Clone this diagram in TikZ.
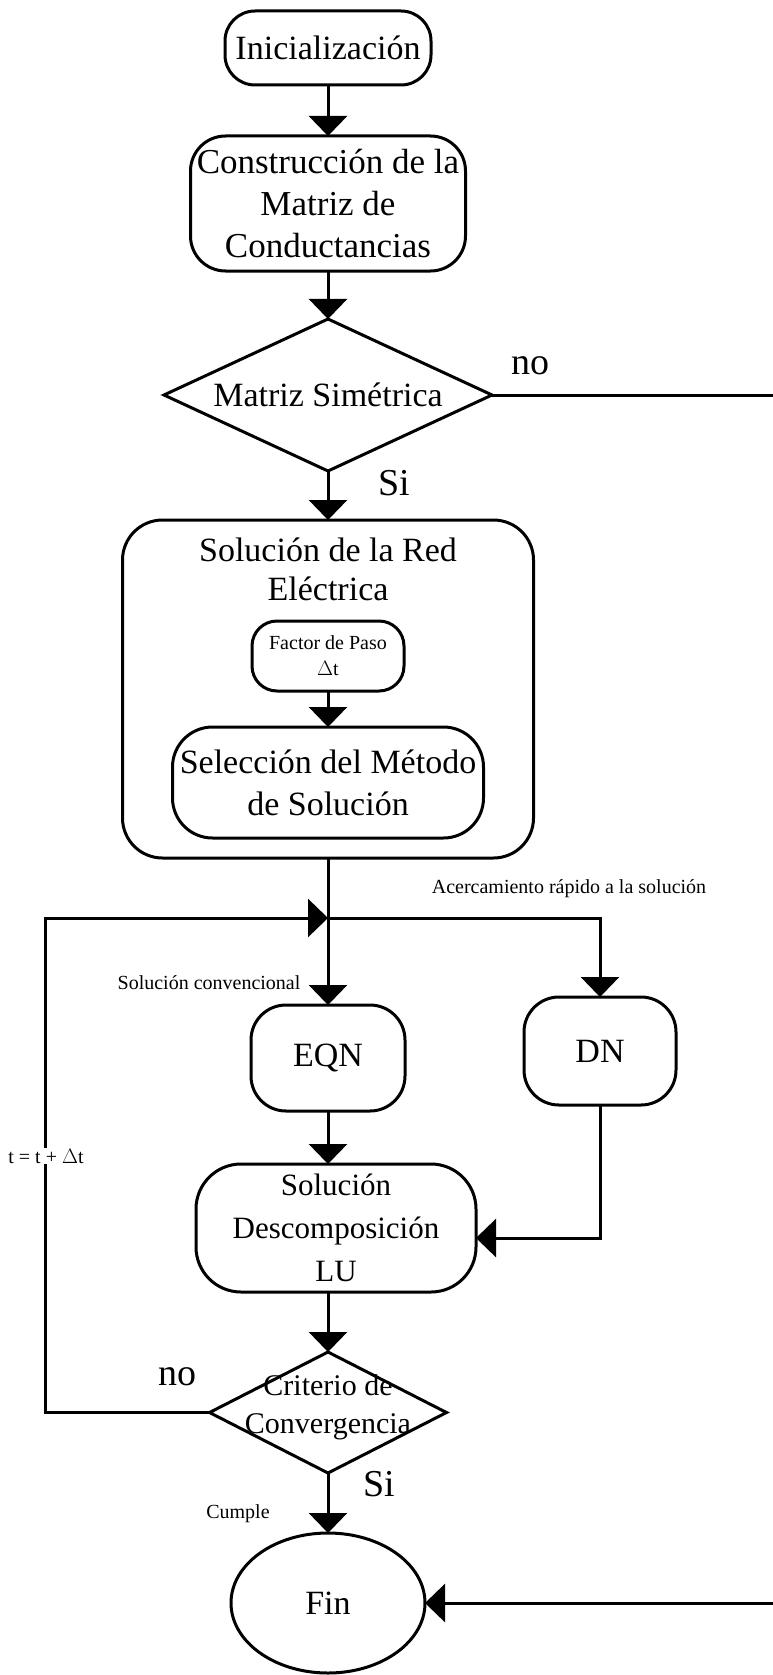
\documentclass[tikz,border=0pt]{standalone}
\usepackage{fontspec}
\setmainfont{Liberation Serif}
\usetikzlibrary{shapes,arrows.meta,positioning,calc}

\begin{document}
\begin{tikzpicture}[
    x=1pt, y=-1pt,
    node distance=48pt,
    box/.style={rectangle, draw, line width=3pt, outer sep=0pt, rounded corners=30pt, align=center, inner sep=2pt, font=\fontsize{34}{42}\selectfont},
    decision/.style={diamond, draw, line width=3pt, outer sep=0pt, align=center, inner sep=0pt, font=\fontsize{34}{42}\selectfont},
    note/.style={inner sep=1pt, font=\fontsize{20}{24}\selectfont},
    answer/.style={inner sep=1pt, font=\fontsize{38}{40}\selectfont},
    arrow/.style={-{Triangle[length=20pt,width=38pt]}, line width=3pt},
    wire/.style={line width=3pt}
]
    \useasboundingbox (0,0) rectangle (773,1675);

    % Main flow
    \node[box, minimum width=206pt, minimum height=74pt] (init) at (328,48) {Inicialización};
    \node[box, below=51pt of init, minimum width=275pt, minimum height=135pt, rounded corners=35pt, inner sep=0pt, font=\fontsize{35}{42}\selectfont] (cond) {Construcción de la\\Matriz de\\Conductancias};
    \node[decision, below=48pt of cond, aspect=2.16, minimum width=328pt, minimum height=152pt] (sym) {Matriz Simétrica};
    \node[box, below=49pt of sym, minimum width=411pt, minimum height=338pt, rounded corners=40pt] (red) {};
    \node[below=14pt of red.north, align=center, font=\fontsize{34}{39}\selectfont] (redtitle) {Solución de la Red\\Eléctrica};
    \node[box, below=101pt of red.north, minimum width=152pt, minimum height=70pt, rounded corners=25pt, font=\fontsize{20}{26}\selectfont] (paso) {Factor de Paso\\$\Delta$t};
    \node[box, below=36pt of paso, minimum width=311pt, minimum height=111pt, rounded corners=40pt] (metodo) {Selección del Método\\de Solución};

    % Methods
    \coordinate[below=60pt of red] (split);
    \node[box, below=147pt of red, minimum width=154pt, minimum height=106pt, rounded corners=35pt] (eqn) {EQN};
    \node[box, right=119pt of eqn, yshift=7pt, minimum width=152pt, minimum height=108pt, rounded corners=35pt] (dn) {DN};
    \node[box, below=53pt of eqn, xshift=8pt, minimum width=280pt, minimum height=128pt, rounded corners=45pt, font=\fontsize{31}{43}\selectfont] (lu) {Solución\\Descomposición\\LU};
    \node[decision, below=60pt of lu, xshift=-8pt, aspect=1.96, minimum width=237pt, minimum height=121pt,
        label={[font=\fontsize{30}{38}\selectfont, align=center, yshift=5pt]center:Criterio de\\Convergencia}] (conv) {};
    \node[draw, ellipse, line width=3pt, outer sep=0pt, below=60pt of conv, minimum width=194pt, minimum height=140pt, font=\fontsize{34}{42}\selectfont] (fin) {Fin};

    % Free ends
    \coordinate (symR) at (773,395);
    \coordinate (finR) at (773,1603);
    \coordinate (back) at (45,918);

    % Arrows
    \draw[arrow] (init) -- (cond);
    \draw[arrow] (cond) -- (sym);
    \draw[arrow] (sym) -- (red);
    \draw[arrow] (paso) -- (metodo);
    \draw[arrow] (red) -- (eqn);
    \draw[arrow] (split) -| (dn);
    \draw[arrow] (eqn) -- (eqn |- lu.north);
    \draw[arrow] (dn) |- ([yshift=-10pt]lu.east);
    \draw[arrow] (conv |- lu.south) -- (conv);
    \draw[arrow] (conv) -- (fin);
    \draw[wire] (sym) -- (symR);
    \draw[arrow] (finR) -- (fin);
    \draw[arrow] (conv) -| (back) -- (split);

    % Labels
    \node[answer] (no1) at (530,366) {no};
    \node[answer] (si1) at (394,483) {Si};
    \node[note] (rapido) at (569,889) {Acercamiento rápido a la solución};
    \node[note] (normal) at (209,983) {Solución convencional};
    \node[note, fill=white] (incr) at (46,1156) {t = t + $\Delta$t};
    \node[answer] (no2) at (177,1377) {no};
    \node[answer] (si2) at (379,1484) {Si};
    \node[note] (cumple) at (238,1514) {Cumple};
\end{tikzpicture}
\end{document}
